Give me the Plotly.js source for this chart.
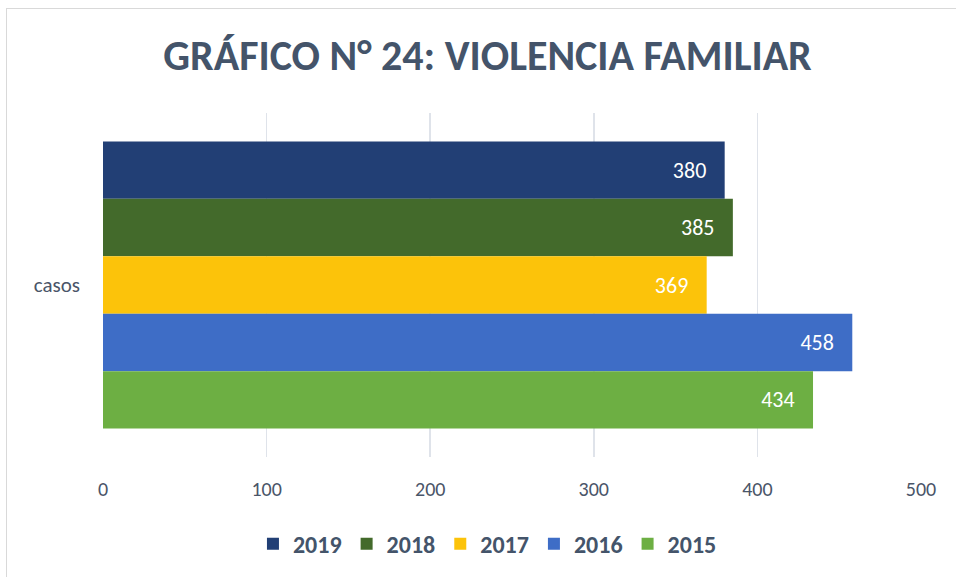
<!DOCTYPE html>
<html><head><meta charset="utf-8">
<script src="https://cdn.plot.ly/plotly-3.0.1.min.js"></script>
<style>
html,body{margin:0;padding:0;background:#fff;}
#chart{width:956px;height:577px;position:relative;}
#frame{position:absolute;left:6px;top:8px;width:960px;height:580px;border:1px solid #d9d9d9;pointer-events:none;}
</style></head>
<body>
<div id="chart"></div>
<div id="frame"></div>
<script>
const category = ["casos"];
const years = ["2019", "2018", "2017", "2016", "2015"];
const values = [380, 385, 369, 458, 434];
const colors = ["#223f75", "#436a2b", "#fcc30a", "#3e6dc6", "#6daf43"];
const xTicks = [0, 100, 200, 300, 400, 500];

const font = "Carlito, Calibri, Lato, 'Open Sans', sans-serif";
const traces = years.map((y, i) => ({
  type: "bar",
  orientation: "h",
  name: y,
  y: category,
  x: [values[i]],
  text: [String(values[i]) + "\u2002\u2009"],
  textposition: "inside",
  insidetextanchor: "end",
  textfont: {color: "#ffffff", size: 22, family: font},
  marker: {color: colors[i]},
  hoverinfo: "none"
}));

const layout = {
  width: 956, height: 577,
  margin: {l: 103, r: 35, t: 113, b: 119},
  paper_bgcolor: "#ffffff", plot_bgcolor: "#ffffff",
  title: {text: "<b>GRÁFICO N° 24: VIOLENCIA FAMILIAR</b>", x: 0.51, xanchor: "center", y: 0.905, yanchor: "middle",
          font: {size: 42, color: "#44546a", family: font}},
  barmode: "group",
  bargap: 0.165,
  bargroupgap: 0,
  xaxis: {range: [0, 500], tickvals: xTicks, showgrid: true, gridcolor: "#dfe3ea", gridwidth: 1.5,
          zeroline: false, showline: false, ticks: "", ticklabelstandoff: 18,
          tickfont: {size: 20, color: "#4a5568", family: font}},
  yaxis: {autorange: "reversed", showgrid: false, zeroline: false, showline: false, ticks: "",
          tickfont: {size: 21, color: "#4a5568", family: font}, ticklabelstandoff: 22},
  showlegend: true,
  legend: {orientation: "h", x: 0.47, xanchor: "center", y: -0.25, yanchor: "middle",
           font: {size: 24, color: "#44546a", family: font, weight: "bold"}, itemwidth: 30, traceorder: "normal"}
};
Plotly.newPlot("chart", traces, layout, {staticPlot: true});
</script>
</body></html>
